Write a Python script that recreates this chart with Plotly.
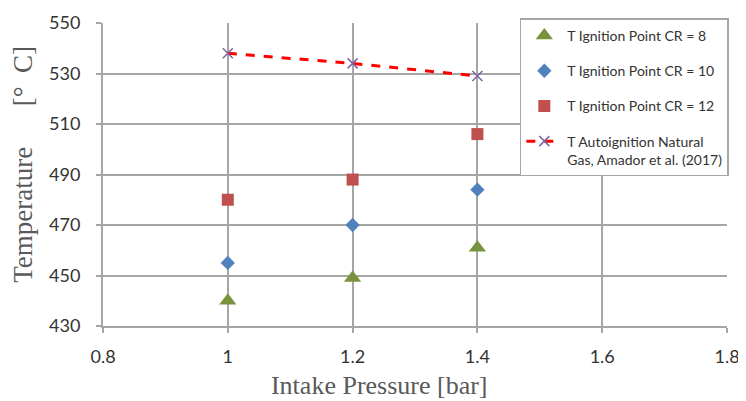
import plotly.graph_objects as go

pressure = [1.0, 1.2, 1.4]
t_cr8 = [440, 449, 461]
t_cr10 = [455, 470, 484]
t_cr12 = [480, 488, 506]
t_auto = [538, 534, 529]

names = ["T Ignition Point CR = 8", "T Ignition Point CR = 10",
         "T Ignition Point CR = 12",
         "T Autoignition Natural<br>Gas, Amador et al. (2017)"]
x_ticks = [0.8, 1.0, 1.2, 1.4, 1.6, 1.8]
x_tick_labels = ["0.8", "1", "1.2", "1.4", "1.6", "1.8"]
y_ticks = [430, 450, 470, 490, 510, 530, 550]

NB = "\u00a0"
ZW = "\u200b"
x_title = "Intake Pressure [bar]" + NB * 11 + ZW
y_title = ZW + NB * 3 + "Temperature" + NB * 2 + "\u3000[°\u2002C]"

fig = go.Figure()
fig.add_trace(go.Scatter(x=pressure, y=t_cr8, mode="markers", name=names[0],
                         legendgroup="a",
                         marker=dict(symbol="triangle-up", size=15, color="#77933C")))
fig.add_trace(go.Scatter(x=pressure, y=t_cr10, mode="markers", name=names[1],
                         legendgroup="b",
                         marker=dict(symbol="diamond", size=11, color="#4F81BD")))
fig.add_trace(go.Scatter(x=pressure, y=t_cr12, mode="markers", name=names[2],
                         legendgroup="c",
                         marker=dict(symbol="square", size=12, color="#C0504D")))
fig.add_trace(go.Scatter(x=pressure, y=t_auto, mode="lines+markers", name=names[3],
                         legendgroup="d",
                         line=dict(color="#FF0000", width=3, dash="dash"),
                         marker=dict(symbol="x-thin", size=10,
                                     line=dict(color="#8064A2", width=1.5),
                                     color="#8064A2")))

axis_common = dict(showgrid=True, gridcolor="#A6A6A6", gridwidth=2,
                   showline=True, linecolor="#A6A6A6", linewidth=2,
                   ticks="outside", ticklen=5, tickcolor="#A6A6A6", tickwidth=1.5,
                   zeroline=False, automargin=False,
                   tickfont=dict(family="Lato, Open Sans, sans-serif", size=18, color="#333333"))

# the page body adds an 8px offset, so the figure is sized to fit the window
fig.update_layout(
    width=738, height=393,
    margin=dict(l=95, r=19, t=10, b=75),
    paper_bgcolor="white", plot_bgcolor="white",
    xaxis=dict(range=[0.8, 1.8], tickvals=x_ticks, ticktext=x_tick_labels,
               ticklabelstandoff=8,
               title=dict(text=x_title, standoff=10,
                          font=dict(family="Liberation Serif, serif", size=26, color="#595959")),
               **axis_common),
    yaxis=dict(range=[430, 550], tickvals=y_ticks, ticklabelstandoff=12,
               title=dict(text=y_title, standoff=14,
                          font=dict(family="Liberation Serif, serif", size=27, color="#595959")),
               **axis_common),
    legend=dict(x=0.668, y=1.015, xanchor="left", yanchor="top",
                bgcolor="white", bordercolor="#A6A6A6", borderwidth=1.5,
                font=dict(family="Lato, Open Sans, sans-serif", size=14, color="#333333"),
                tracegroupgap=14, itemwidth=36, valign="top"),
    showlegend=True,
)

fig.write_html("out.html")
